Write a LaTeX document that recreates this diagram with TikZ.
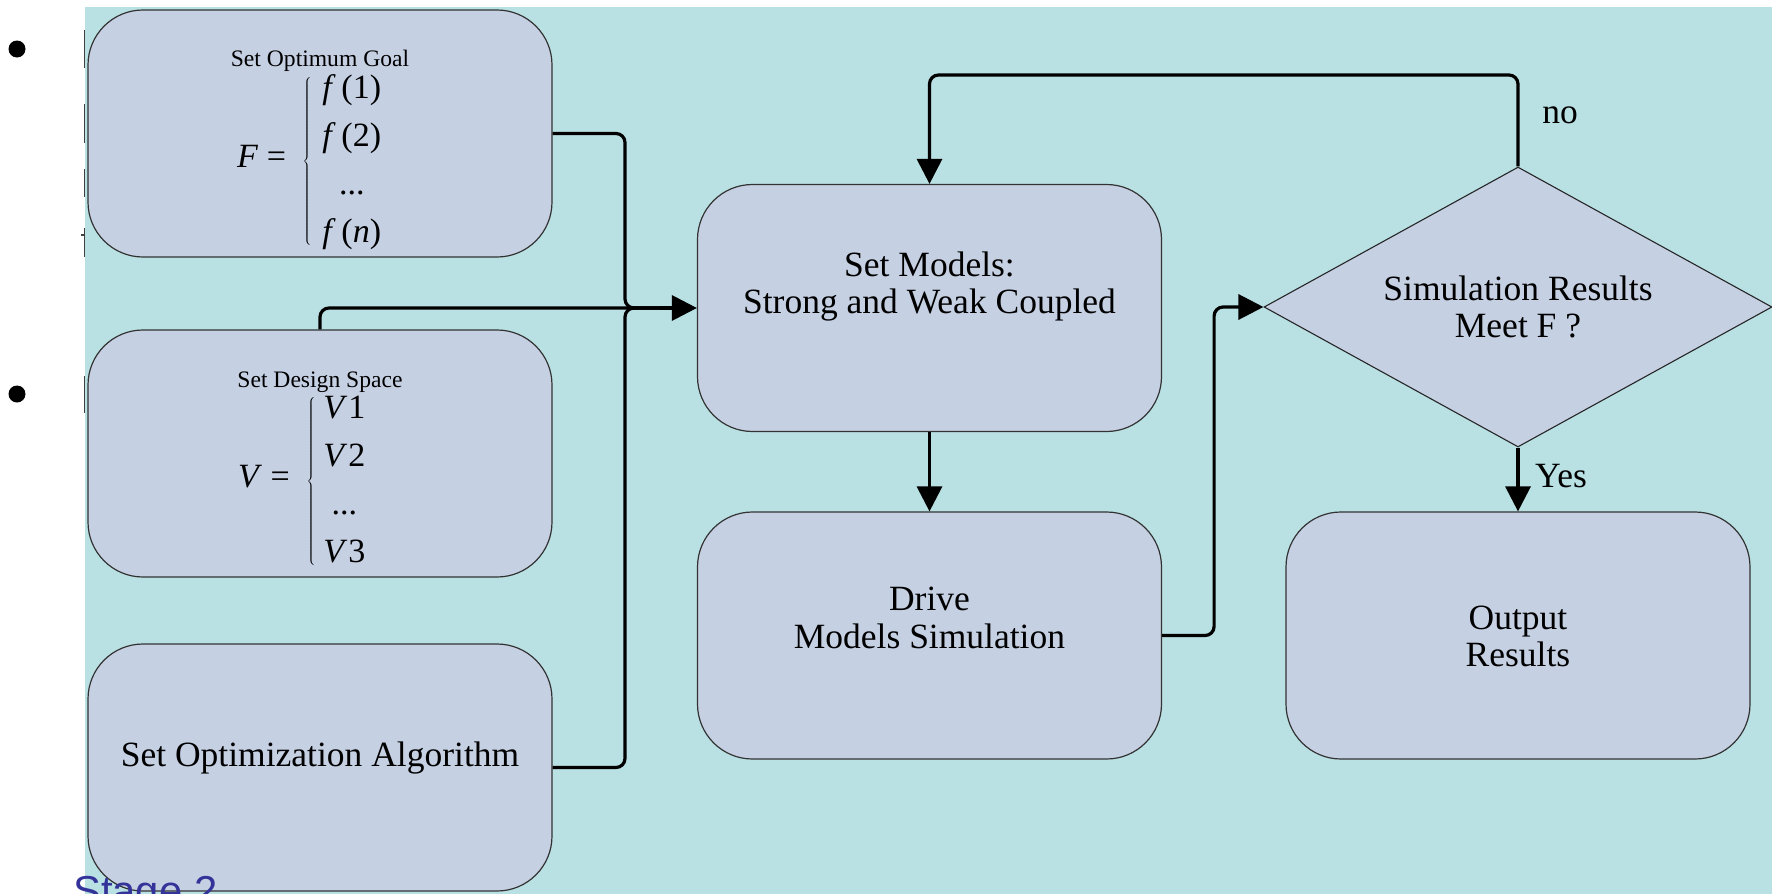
\documentclass[tikz,border=0pt]{standalone}
\usepackage{fontspec}
\setmainfont{Liberation Serif}
\newfontfamily\stagefont{Liberation Sans}
\usetikzlibrary{shapes.geometric,arrows.meta,calc}
\definecolor{bgteal}{HTML}{B9E0E3}
\definecolor{boxfill}{HTML}{C5D0E3}
\definecolor{stageblue}{HTML}{333399}
\renewcommand{\arraystretch}{1.13}
\delimiterfactor=820
\delimitershortfall=28pt
\begin{document}
\begin{tikzpicture}[x=1pt,y=-1pt,
  box/.style={draw=black!80, line width=1.2pt, fill=boxfill, rounded corners=55pt,
    minimum width=464pt, minimum height=247pt, inner sep=0pt},
  lbl/.style={font=\fontsize{35.5}{37.5}\selectfont, align=center, inner sep=0pt},
  small/.style={font=\fontsize{23.6}{26}\selectfont, inner sep=0pt},
  mathlbl/.style={font=\fontsize{34}{42.5}\selectfont, inner sep=0pt, anchor=west},
  conn/.style={line width=3.2pt, rounded corners=9pt},
  arr/.style={-{Triangle[length=25pt,width=25pt]}},
  cut/.style={line width=1.3pt, black!75}]
\useasboundingbox (0,0) rectangle (1772,894);
\fill[white] (0,0) rectangle (1772,894);
\fill[bgteal] (85,7) rectangle (1772,894);

% bullets and clipped glyph strokes on the left margin
\fill (17,49) circle[radius=8.5pt];
\fill (17,394) circle[radius=8.5pt];
\draw[cut] (84.3,30) -- (84.3,68);
\draw[cut] (84.3,104) -- (84.3,143);
\draw[cut] (84.3,169) -- (84.3,197);
\draw[cut] (84.3,228) -- (84.3,257);
\draw[cut] (81,235) -- (85,235);
\draw[cut] (84.3,376) -- (84.3,413);

% left column
\node[box] (goal) at (320,133.5) {};
\node[box] (space) at (320,453.5) {};
\node[box] (algo) at (320,767.5) {};

\node[small] (goalT) at (320,61) {Set Optimum Goal};
\node[mathlbl] (goalM) at (237,161)
  {$\mbox{\textit{F} = }\kern4pt\left\{\kern11pt\begin{array}{@{}c@{}}\mbox{\textit{f}\,(1)}\\ \mbox{\textit{f}\,(2)}\\ \mbox{...}\\ \mbox{\textit{f}\,(\textit{n})}\end{array}\right.$};
\node[small] (spaceT) at (320,382) {Set Design Space};
\node[mathlbl] (spaceM) at (238,481)
  {$\mbox{\textit{V} = }\kern4pt\left\{\kern8pt\begin{array}{@{}c@{}}\mbox{\textit{V}\kern1pt1}\\ \mbox{\textit{V}\kern1pt2}\\ \mbox{...}\\ \mbox{\textit{V}\kern1pt3}\end{array}\right.$};
\node[lbl] (algoT) at (320,758.5) {Set Optimization Algorithm};

% middle and right column
\node[box] (models) at (929.5,308) {};
\node[box] (drive) at (929.5,635.5) {};
\node[box] (out) at (1518,635.5) {};
\node[lbl] (modelsT) at (929.5,286.5) {Set Models:\\Strong and Weak Coupled};
\node[lbl] (driveT) at (929.5,618) {Drive\\Models Simulation};
\node[lbl] (outT) at (1518,636.5) {Output\\Results};
\node[diamond, aspect=1.81, draw=black!85, line width=1.1pt, fill=boxfill, minimum width=508pt,
  minimum height=280pt, lbl] (dec) at (1518,307) {Simulation Results\\Meet F ?};

% connectors
\coordinate (j) at (625,308);
\coordinate (jr) at (660,308);
\draw[conn] (goal.east) -| (j) -- (jr);
\draw[conn] (algo.east) -| (j) -- (jr);
\draw[conn] (space.north) |- (jr);
\draw[conn,arr] (jr) -- (models.west);
\draw[conn,arr] (models.south) -- (drive.north);
\draw[conn,arr] (drive.east) -- ++(52,0) |- (dec.west);
\coordinate (loopTop) at (929.5,75);
\draw[conn,arr] (dec.north) |- (loopTop) -- (models.north);
\draw[conn,arr] (dec.south) -- (out.north);
\node[lbl] (noL) at (1560,115.5) {no};
\node[lbl] (yesL) at (1561,476) {Yes};

\node[anchor=base west, inner sep=0pt, font=\stagefont\fontsize{41.8}{44}\selectfont,
  text=stageblue] (stage) at (73,905) {Stage 2};
\end{tikzpicture}
\end{document}
